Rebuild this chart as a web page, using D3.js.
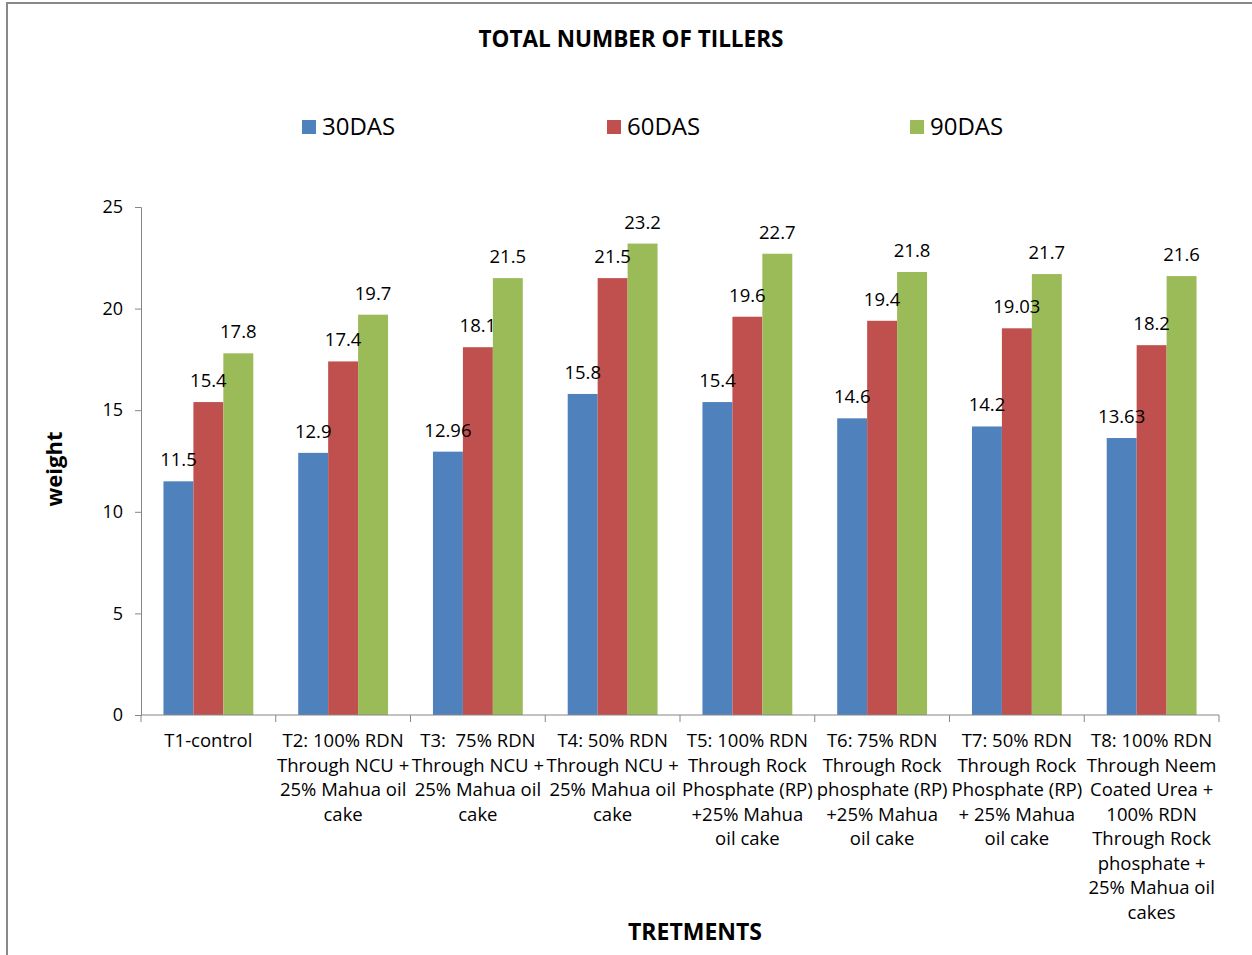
<!DOCTYPE html>
<html>
<head>
<meta charset="utf-8">
<script src="https://cdn.jsdelivr.net/npm/d3@7"></script>
<style>
  body { margin: 0; background: #fff; }
  svg text { font-family: "Open Sans", sans-serif; fill: #000; white-space: pre; }
</style>
</head>
<body>
<svg id="chart" width="1252" height="955"></svg>
<script>
const categories = [
    ["T1-control"],
    ["T2: 100% RDN", "Through NCU +", "25% Mahua oil", "cake"],
    ["T3:  75% RDN", "Through NCU +", "25% Mahua oil", "cake"],
    ["T4: 50% RDN", "Through NCU +", "25% Mahua oil", "cake"],
    ["T5: 100% RDN", "Through Rock", "Phosphate (RP)", "+25% Mahua", "oil cake"],
    ["T6: 75% RDN", "Through Rock", "phosphate (RP)", "+25% Mahua", "oil cake"],
    ["T7: 50% RDN", "Through Rock", "Phosphate (RP)", "+ 25% Mahua", "oil cake"],
    ["T8: 100% RDN", "Through Neem", "Coated Urea +", "100% RDN", "Through Rock", "phosphate +", "25% Mahua oil", "cakes"]
];
const seriesNames = ["30DAS", "60DAS", "90DAS"];
const das30 = [11.5, 12.9, 12.96, 15.8, 15.4, 14.6, 14.2, 13.63];
const das60 = [15.4, 17.4, 18.1, 21.5, 19.6, 19.4, 19.03, 18.2];
const das90 = [17.8, 19.7, 21.5, 23.2, 22.7, 21.8, 21.7, 21.6];
const yTicks = [0, 5, 10, 15, 20, 25];
const colors = ["#4F81BD", "#C0504D", "#9BBB59"];

const seriesValues = [das30, das60, das90];
const svg = d3.select("#chart");

// chart frame (only top and left edges are in view)
svg.append("rect")
    .attr("x", 7).attr("y", 3)
    .attr("width", 1300).attr("height", 1000)
    .style("fill", "none").style("stroke", "#888").style("stroke-width", 2);

const plotL = 141, plotR = 1219, plotT = 207, plotB = 715;

const x0 = d3.scaleBand()
    .domain(d3.range(categories.length))
    .range([plotL, plotR]);
const x1 = d3.scaleBand()
    .domain(seriesNames)
    .range([0, x0.bandwidth()])
    .paddingOuter(0.75);
const y = d3.scaleLinear().domain([0, 25]).range([plotB, plotT]);

// title
svg.append("text")
    .attr("x", 631).attr("y", 47)
    .attr("text-anchor", "middle")
    .style("font-size", "22.5px").style("font-weight", "bold")
    .text("TOTAL NUMBER OF TILLERS");

// legend
const legendX = [302, 607, 910];
seriesNames.forEach((s, i) => {
    svg.append("rect")
        .attr("x", legendX[i]).attr("y", 120)
        .attr("width", 14).attr("height", 14)
        .style("fill", colors[i]);
    svg.append("text")
        .attr("x", legendX[i] + 20).attr("y", 135)
        .style("font-size", "24px")
        .text(s);
});

// y axis
const yAxis = svg.append("g")
    .attr("transform", `translate(${plotL},0)`)
    .call(d3.axisLeft(y).tickValues(yTicks).tickSize(6).tickPadding(12));
yAxis.select(".domain").style("stroke", "#868686");
yAxis.selectAll(".tick line").style("stroke", "#868686");
yAxis.selectAll(".tick text")
    .style("font-size", "18px")
    .style("font-family", "'Open Sans', sans-serif");

// bars
const groups = svg.selectAll("g.cat")
    .data(categories.map((c, i) => i))
    .join("g")
    .attr("class", "cat")
    .attr("transform", i => `translate(${x0(i)},0)`);

groups.selectAll("rect")
    .data(i => seriesNames.map((s, k) => ({s, k, v: seriesValues[k][i]})))
    .join("rect")
    .attr("x", d => x1(d.s))
    .attr("width", x1.bandwidth())
    .attr("y", d => y(d.v))
    .attr("height", d => y(0) - y(d.v))
    .style("fill", d => colors[d.k]);

groups.selectAll("text.val")
    .data(i => seriesNames.map((s, k) => ({s, k, v: seriesValues[k][i]})))
    .join("text")
    .attr("class", "val")
    .attr("x", d => x1(d.s) + x1.bandwidth() / 2)
    .attr("y", d => y(d.v) - 15)
    .attr("text-anchor", "middle")
    .style("font-size", "18.5px")
    .text(d => String(d.v));

// x axis
const xAxisG = svg.append("g");
xAxisG.append("line")
    .attr("x1", plotL).attr("x2", plotR)
    .attr("y1", plotB).attr("y2", plotB)
    .style("stroke", "#868686");
const tickXs = d3.range(categories.length + 1).map(i => i < categories.length ? x0(i) : plotR);
xAxisG.selectAll("line.tk")
    .data(tickXs)
    .join("line")
    .attr("class", "tk")
    .attr("x1", d => d).attr("x2", d => d)
    .attr("y1", plotB).attr("y2", plotB + 7)
    .style("stroke", "#868686");

const labels = svg.selectAll("text.catlbl")
    .data(categories)
    .join("text")
    .attr("class", "catlbl")
    .attr("text-anchor", "middle")
    .style("font-size", "18.5px");
labels.each(function(lines, i) {
    const t = d3.select(this);
    lines.forEach((ln, j) => {
        t.append("tspan")
            .attr("x", x0(i) + x0.bandwidth() / 2)
            .attr("y", 747 + j * 24.5)
            .text(ln);
    });
});

// axis titles
svg.append("text")
    .attr("transform", "translate(62,469) rotate(-90)")
    .attr("text-anchor", "middle")
    .style("font-size", "22px").style("font-weight", "bold")
    .text("weight");
svg.append("text")
    .attr("x", 695).attr("y", 940)
    .attr("text-anchor", "middle")
    .style("font-size", "23px").style("font-weight", "bold")
    .text("TRETMENTS");
</script>
</body>
</html>
